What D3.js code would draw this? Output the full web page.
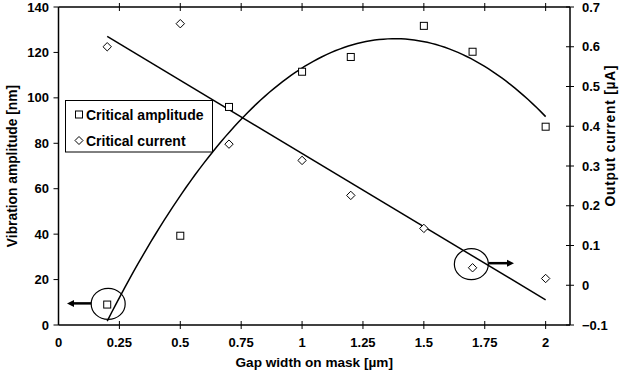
<!DOCTYPE html>
<html><head><meta charset="utf-8">
<script src="https://cdn.jsdelivr.net/npm/d3@7"></script>
<style>body{margin:0;background:#fff}svg{display:block}text{font-family:"Liberation Sans",Arial,sans-serif;font-weight:bold;fill:#000}</style>
</head><body><svg id="c" width="621" height="380"></svg>
<script>
const gapWidth = [0.2, 0.5, 0.7, 1.0, 1.2, 1.5, 1.7, 2.0];
const criticalAmplitude = [9, 39.3, 96, 111.5, 118, 131.7, 120.3, 87.3];
const criticalCurrent = [0.6, 0.658, 0.355, 0.314, 0.226, 0.143, 0.044, 0.017];
const xTicks = [0, 0.25, 0.5, 0.75, 1, 1.25, 1.5, 1.75, 2];
const yLeftTicks = [0, 20, 40, 60, 80, 100, 120, 140];
const yRightTicks = [-0.1, 0, 0.1, 0.2, 0.3, 0.4, 0.5, 0.6, 0.7];
const seriesNames = ["Critical amplitude", "Critical current"];

const svg = d3.select("#c");
const L = 58.5, R = 570, T = 7, B = 325;
const x = d3.scaleLinear().domain([0, 2.1]).range([L, R]);
const yL = d3.scaleLinear().domain([0, 140]).range([B, T]);
const yR = d3.scaleLinear().domain([-0.1, 0.7]).range([B, T]);

// frame lines
const g = svg.append("g").attr("stroke", "#000").attr("stroke-width", 1.5);
g.append("line").attr("x1", L).attr("x2", R).attr("y1", B).attr("y2", B);
g.append("line").attr("x1", L).attr("x2", R).attr("y1", T).attr("y2", T);
g.append("line").attr("x1", L).attr("x2", L).attr("y1", T).attr("y2", B);
g.append("line").attr("x1", R).attr("x2", R).attr("y1", T).attr("y2", B);

// x ticks (bottom and top)
xTicks.forEach(v => {
  if (v === 0) return;
  g.append("line").attr("x1", x(v)).attr("x2", x(v)).attr("y1", B - 4).attr("y2", B + 4).attr("stroke-width", 1);
  g.append("line").attr("x1", x(v)).attr("x2", x(v)).attr("y1", T - 4).attr("y2", T + 4).attr("stroke-width", 1);
});
svg.append("g").selectAll("text").data(xTicks).join("text")
  .attr("x", d => x(d)).attr("y", 346.5).attr("text-anchor", "middle")
  .style("font-size", "13px").text(d => d3.format("")(d));

// left ticks
yLeftTicks.forEach(v => {
  g.append("line").attr("x1", L - 5).attr("x2", L).attr("y1", yL(v)).attr("y2", yL(v)).attr("stroke-width", 1);
});
svg.append("g").selectAll("text").data(yLeftTicks).join("text")
  .attr("x", 49).attr("y", d => yL(d) + 4.6).attr("text-anchor", "end")
  .style("font-size", "13px").text(d => d);

// right ticks
yRightTicks.forEach(v => {
  g.append("line").attr("x1", R - 4).attr("x2", R + 4).attr("y1", yR(v)).attr("y2", yR(v)).attr("stroke-width", 1);
});
svg.append("g").selectAll("text").data(yRightTicks).join("text")
  .attr("x", 582).attr("y", d => yR(d) + 4.6).attr("text-anchor", "start")
  .style("font-size", "13px").text(d => d3.format("")(d));

// axis titles
svg.append("text").attr("x", (L + R) / 2).attr("y", 367).attr("text-anchor", "middle")
  .style("font-size", "13.6px").text("Gap width on mask [µm]");
svg.append("text").attr("transform", `translate(16.5,${(T + B) / 2}) rotate(-90)`).attr("text-anchor", "middle")
  .style("font-size", "13.8px").text("Vibration amplitude [nm]");
svg.append("text").attr("transform", `translate(614.5,136) rotate(-90)`).attr("text-anchor", "middle")
  .style("font-size", "13.8px").attr("textLength", 141).attr("lengthAdjust", "spacing").text("Output current [µA]");

// regressions
function linFit(xs, ys) {
  const mx = d3.mean(xs), my = d3.mean(ys);
  let sxy = 0, sxx = 0;
  xs.forEach((v, i) => { sxy += (v - mx) * (ys[i] - my); sxx += (v - mx) ** 2; });
  const b = sxy / sxx; return t => my + b * (t - mx);
}
function quadFit(xs, ys) {
  const S = k => d3.sum(xs, v => v ** k);
  const Sy = k => d3.sum(xs, (v, i) => v ** k * ys[i]);
  const A = [[S(0), S(1), S(2)], [S(1), S(2), S(3)], [S(2), S(3), S(4)]];
  const bv = [Sy(0), Sy(1), Sy(2)];
  for (let i = 0; i < 3; i++) {
    for (let j = i + 1; j < 3; j++) {
      const f = A[j][i] / A[i][i];
      for (let k = i; k < 3; k++) A[j][k] -= f * A[i][k];
      bv[j] -= f * bv[i];
    }
  }
  const c = [0, 0, 0];
  for (let i = 2; i >= 0; i--) {
    let s = bv[i]; for (let k = i + 1; k < 3; k++) s -= A[i][k] * c[k];
    c[i] = s / A[i][i];
  }
  return t => c[0] + c[1] * t + c[2] * t * t;
}
const qf = quadFit(gapWidth, criticalAmplitude);
const lf = linFit(gapWidth, criticalCurrent);
const x0 = gapWidth[0], x1 = gapWidth[gapWidth.length - 1];
const xs = d3.range(0, 101).map(i => x0 + (x1 - x0) * i / 100);
svg.append("path").attr("d", d3.line().x(d => x(d)).y(d => yL(qf(d)))(xs))
  .attr("fill", "none").attr("stroke", "#000").attr("stroke-width", 1.5);
svg.append("path").attr("d", d3.line().x(d => x(d)).y(d => yR(lf(d)))([x0, x1]))
  .attr("fill", "none").attr("stroke", "#000").attr("stroke-width", 1.5);

// markers
const sq = 7;
svg.append("g").selectAll("rect").data(gapWidth).join("rect")
  .attr("x", (d) => x(d) - sq / 2).attr("y", (d, i) => yL(criticalAmplitude[i]) - sq / 2)
  .attr("width", sq).attr("height", sq).attr("fill", "#fff").attr("stroke", "#000").attr("stroke-width", 1);
const dia = 4.2;
svg.append("g").selectAll("path").data(gapWidth).join("path")
  .attr("d", (d, i) => { const cx = x(d), cy = yR(criticalCurrent[i]); return `M${cx},${cy - dia}L${cx + dia},${cy}L${cx},${cy + dia}L${cx - dia},${cy}Z`; })
  .attr("fill", "#fff").attr("stroke", "#000").attr("stroke-width", 1);

// annotations: ellipses and arrows
svg.append("ellipse").attr("cx", x(0.204)).attr("cy", yL(9.3)).attr("rx", 17).attr("ry", 15.5)
  .attr("fill", "none").attr("stroke", "#000").attr("stroke-width", 1.2);
svg.append("ellipse").attr("cx", x(1.695)).attr("cy", yR(0.053)).attr("rx", 17).attr("ry", 15.5)
  .attr("fill", "none").attr("stroke", "#000").attr("stroke-width", 1.2);
function arrow(xa, ya, xb, yb) {
  const dir = Math.sign(xb - xa);
  svg.append("line").attr("x1", xa).attr("y1", ya).attr("x2", xb - dir * 5).attr("y2", yb)
    .attr("stroke", "#000").attr("stroke-width", 2.5);
  svg.append("path").attr("d", `M${xb},${yb}L${xb - dir * 7},${yb - 3.5}L${xb - dir * 7},${yb + 3.5}Z`).attr("fill", "#000");
}
arrow(x(0.204) - 17, yL(9.3) - 0.5, 67, yL(9.3) - 0.5);
arrow(x(1.695) + 17, yR(0.053) - 1, 514, yR(0.053) - 1);

// legend
const lg = svg.append("g");
lg.append("rect").attr("x", 65.5).attr("y", 100.5).attr("width", 147).attr("height", 51.5)
  .attr("fill", "#fff").attr("stroke", "#000").attr("stroke-width", 1);
lg.append("rect").attr("x", 75.5).attr("y", 111).attr("width", 7).attr("height", 7)
  .attr("fill", "#fff").attr("stroke", "#000").attr("stroke-width", 1);
lg.append("path").attr("d", `M79,${140.5 - 4}L83,140.5L79,${140.5 + 4}L75,140.5Z`)
  .attr("fill", "#fff").attr("stroke", "#000").attr("stroke-width", 1);
lg.append("text").attr("x", 86).attr("y", 119.5).style("font-size", "14px").text(seriesNames[0]);
lg.append("text").attr("x", 86).attr("y", 145.5).style("font-size", "14px").text(seriesNames[1]);
</script></body></html>
